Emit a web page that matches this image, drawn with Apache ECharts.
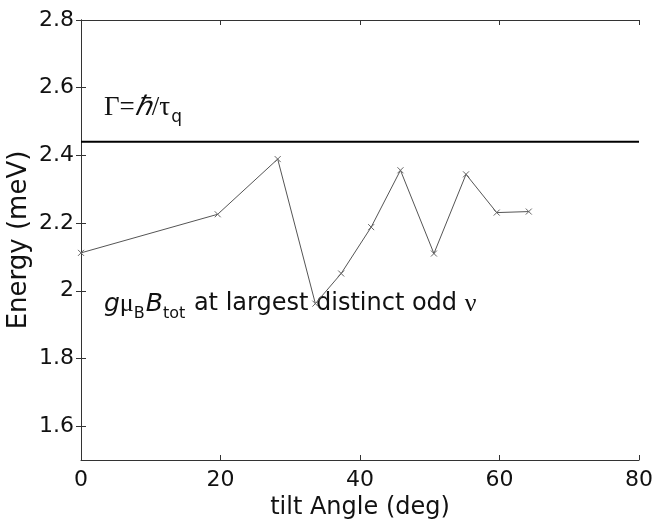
<!DOCTYPE html>
<html>
<head>
<meta charset="utf-8">
<script src="https://cdn.jsdelivr.net/npm/echarts@6/dist/echarts.min.js"></script>
<style>
  html, body { margin: 0; padding: 0; background: #fff; }
  #chart { width: 657px; height: 525px; }
</style>
</head>
<body>
<div id="chart"></div>
<script>
// Zeeman energy vs tilt angle, with the quantum level broadening as a reference line
const angles   = [0, 19.6, 28.2, 33.6, 37.3, 41.6, 45.8, 50.6, 55.2, 59.6, 64.2];
const energies = [2.112, 2.226, 2.389, 1.962, 2.051, 2.188, 2.356, 2.110, 2.344, 2.231, 2.234];
const gammaLevel = 2.44;
const gammaSpan = [0, 80];
const yTicks = [1.6, 1.8, 2, 2.2, 2.4, 2.6, 2.8];
const xTicks = [0, 20, 40, 60, 80];

const SANS = 'DejaVu Sans';
const SERIF = 'Liberation Serif';
const frame = '#333';

const chart = echarts.init(document.getElementById('chart'), null, { renderer: 'canvas' });

const baseX = {
  type: 'value', min: xTicks[0], max: xTicks[xTicks.length - 1], interval: 20,
  axisLine: { lineStyle: { color: frame, width: 1 } },
  axisTick: { inside: true, length: 5, lineStyle: { color: frame } },
  splitLine: { show: false }
};
const baseY = {
  type: 'value', min: 1.5, max: 2.8,
  axisLine: { show: true, lineStyle: { color: frame, width: 1 } },
  axisTick: { show: true, inside: true, length: 5, customValues: yTicks, lineStyle: { color: frame } },
  splitLine: { show: false }
};

chart.setOption({
  animation: false,
  backgroundColor: '#fff',
  grid: { left: 81, right: 18, top: 20, bottom: 65, containLabel: false, outerBoundsMode: 'none' },
  xAxis: [
    Object.assign({}, baseX, {
      position: 'bottom',
      name: 'tilt Angle (deg)', nameLocation: 'middle', nameGap: 36, nameMoveOverlap: false,
      nameTextStyle: { fontFamily: SANS, fontSize: 24, color: '#111' },
      axisLabel: { fontFamily: SANS, fontSize: 22, color: '#111', margin: 9 }
    }),
    Object.assign({}, baseX, { position: 'top', axisLabel: { show: false } })
  ],
  yAxis: [
    Object.assign({}, baseY, {
      position: 'left',
      name: 'Energy (meV)', nameLocation: 'middle', nameGap: 49, nameMoveOverlap: false,
      nameTextStyle: { fontFamily: SANS, fontSize: 26, color: '#111' },
      axisLabel: { customValues: yTicks, fontFamily: SANS, fontSize: 22, color: '#111', margin: 7 }
    }),
    Object.assign({}, baseY, { position: 'right', axisLabel: { show: false } })
  ],
  series: [
    {
      type: 'line',
      data: angles.map((a, i) => [a, energies[i]]),
      symbol: 'path://M0,0L10,10M10,0L0,10',
      symbolSize: 6,
      showSymbol: true,
      itemStyle: { color: 'rgba(0,0,0,0)', borderColor: '#666', borderWidth: 1 },
      lineStyle: { color: '#555', width: 1 }
    },
    {
      type: 'line',
      data: gammaSpan.map(a => [a, gammaLevel]),
      symbol: 'none',
      lineStyle: { color: '#000', width: 2 }
    }
  ],
  graphic: [
    {
      type: 'text', left: 104, top: 94,
      style: {
        text: '{s|Γ=}{i|ℏ}{s|/τ}{sub|q}',
        rich: {
          s: { fontFamily: SERIF, fontSize: 27, lineHeight: 30, fill: '#111' },
          i: { fontFamily: SERIF, fontSize: 27, fontStyle: 'italic', lineHeight: 30, fill: '#111' },
          sub: { fontFamily: SANS, fontSize: 17, lineHeight: 17, verticalAlign: 'bottom', fill: '#111', padding: [0, 0, -4, 1] }
        }
      }
    },
    {
      type: 'text', left: 104, top: 291,
      style: {
        text: '{i|g}{m|μ}{sub|B}{i|B}{sub|tot}{s| at largest distinct odd }{m|ν}',
        rich: {
          s: { fontFamily: SANS, fontSize: 24, lineHeight: 28, fill: '#111' },
          i: { fontFamily: SANS, fontSize: 25, fontStyle: 'italic', lineHeight: 28, fill: '#111' },
          m: { fontFamily: SERIF, fontSize: 26, lineHeight: 28, fill: '#111' },
          sub: { fontFamily: SANS, fontSize: 16, lineHeight: 16, verticalAlign: 'bottom', fill: '#111', padding: [0, 1, -4, 0] }
        }
      }
    }
  ]
});
</script>
</body>
</html>
